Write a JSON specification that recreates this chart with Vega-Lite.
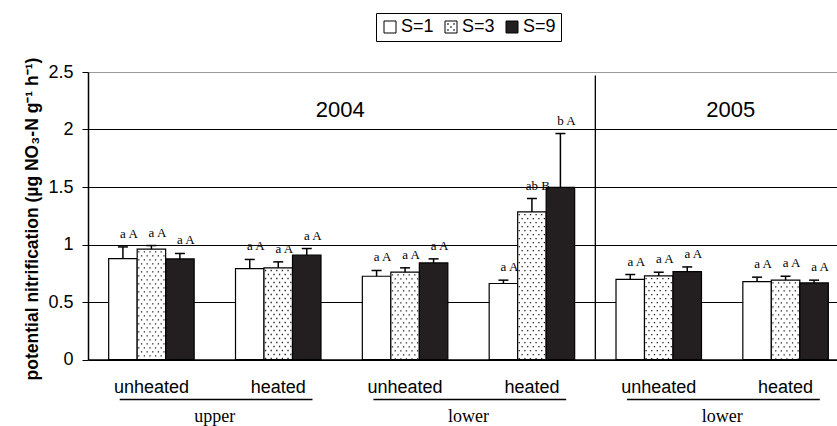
{
  "$schema": "https://vega.github.io/schema/vega-lite/v6.json",
  "autosize": {"type": "none"},
  "padding": {"left": 88, "top": 72, "right": 0, "bottom": 66.5},
  "width": 749,
  "height": 287.5,
  "background": "white",
  "config": {
    "view": {"stroke": null},
    "font": "Liberation Sans"
  },
  "datasets": {
    "bars": [
      {"group": "2004 upper unheated", "S": "S=1", "value": 0.878, "upper": 0.979, "letters": "a A"},
      {"group": "2004 upper unheated", "S": "S=3", "value": 0.959, "upper": 0.991, "letters": "a A"},
      {"group": "2004 upper unheated", "S": "S=9", "value": 0.875, "upper": 0.922, "letters": "a A"},
      {"group": "2004 upper heated", "S": "S=1", "value": 0.791, "upper": 0.870, "letters": "a A"},
      {"group": "2004 upper heated", "S": "S=3", "value": 0.797, "upper": 0.849, "letters": "a A"},
      {"group": "2004 upper heated", "S": "S=9", "value": 0.907, "upper": 0.965, "letters": "a A"},
      {"group": "2004 lower unheated", "S": "S=1", "value": 0.724, "upper": 0.774, "letters": "a A"},
      {"group": "2004 lower unheated", "S": "S=3", "value": 0.759, "upper": 0.797, "letters": "a A"},
      {"group": "2004 lower unheated", "S": "S=9", "value": 0.840, "upper": 0.875, "letters": "a A"},
      {"group": "2004 lower heated", "S": "S=1", "value": 0.661, "upper": 0.690, "letters": "a A"},
      {"group": "2004 lower heated", "S": "S=3", "value": 1.283, "upper": 1.400, "letters": "ab B"},
      {"group": "2004 lower heated", "S": "S=9", "value": 1.496, "upper": 1.965, "letters": "b A"},
      {"group": "2005 lower unheated", "S": "S=1", "value": 0.696, "upper": 0.739, "letters": "a A"},
      {"group": "2005 lower unheated", "S": "S=3", "value": 0.727, "upper": 0.759, "letters": "a A"},
      {"group": "2005 lower unheated", "S": "S=9", "value": 0.765, "upper": 0.805, "letters": "a A"},
      {"group": "2005 lower heated", "S": "S=1", "value": 0.678, "upper": 0.716, "letters": "a A"},
      {"group": "2005 lower heated", "S": "S=3", "value": 0.690, "upper": 0.724, "letters": "a A"},
      {"group": "2005 lower heated", "S": "S=9", "value": 0.666, "upper": 0.690, "letters": "a A"}
    ],
    "blocks": [
      {"block": "2004 upper", "year": "2004"},
      {"block": "2004 lower", "year": "2004"},
      {"block": "2005 lower", "year": "2005"}
    ]
  },
  "layer": [
    {
      "data": {"name": "bars"},
      "layer": [
        {
          "mark": {"type": "bar", "stroke": "black", "strokeWidth": 1.2},
          "encoding": {
            "x": {
              "field": "group", "type": "nominal", "title": null,
              "scale": {
                "domain": ["2004 upper unheated", "2004 upper heated", "2004 lower unheated", "2004 lower heated", "2005 lower unheated", "2005 lower heated"],
                "range": [0, 761], "paddingInner": 0.326, "paddingOuter": 0.163
              },
              "axis": {
                "orient": "bottom", "labelExpr": "split(datum.label, ' ')[2]",
                "labelFont": "Liberation Sans", "labelFontSize": 18, "labelColor": "black",
                "labelAngle": 0, "labelBaseline": "alphabetic", "labelPadding": 33.2,
                "ticks": false, "tickSize": 0, "domain": true, "domainColor": "black", "domainWidth": 1.5,
                "grid": false, "title": null
              }
            },
            "xOffset": {"field": "S", "type": "nominal", "scale": {"domain": ["S=1", "S=3", "S=9"], "paddingInner": 0, "paddingOuter": 0}},
            "y": {
              "field": "value", "type": "quantitative",
              "title": "potential nitrification (µg NO₃-N g⁻¹ h⁻¹)",
              "scale": {"domain": [0, 2.5], "nice": false, "zero": true},
              "axis": {
                "title": "potential nitrification (µg NO₃-N g⁻¹ h⁻¹)",
                "values": [0, 0.5, 1, 1.5, 2, 2.5], "format": "~g",
                "labelFont": "Liberation Sans", "labelFontSize": 18, "labelColor": "black", "labelPadding": 9,
                "ticks": true, "tickSize": 6, "tickColor": "black", "tickWidth": 1,
                "domain": true, "domainColor": "black", "domainWidth": 1.5,
                "grid": true, "gridWidth": 1,
                "gridColor": {"condition": {"test": "datum.value == 2.5", "value": "#9a9a9a"}, "value": "black"},
                "titleFont": "Liberation Sans", "titleFontSize": 17.5, "titleFontWeight": "bold", "titleColor": "black",
                "titlePadding": 6, "titleY": 146.5
              }
            },
            "y2": {"datum": 0},
            "fill": {
              "field": "S", "type": "nominal",
              "scale": {"domain": ["S=1", "S=3", "S=9"], "range": ["white", "white", "#231f20"]},
              "legend": {
                "title": null, "orient": "none", "legendX": 288, "legendY": -59, "direction": "horizontal",
                "symbolType": "square", "symbolSize": 144, "symbolStrokeColor": "black", "symbolStrokeWidth": 1,
                "labelFont": "Liberation Sans", "labelFontSize": 18, "labelColor": "black", "labelOffset": 2,
                "columnPadding": 8, "padding": 5, "strokeColor": "black",
                "encode": {"symbols": {"update": {"shape": {"signal": "datum.value === 'S=3' ? 'M-1,-1H1V1H-1Z M-0.55,-0.55h0.1v0.1h-0.1Z M0.45,-0.55h0.1v0.1h-0.1Z M-0.05,-0.05h0.1v0.1h-0.1Z M-0.55,0.45h0.1v0.1h-0.1Z M0.45,0.45h0.1v0.1h-0.1Z' : 'square'"}}}}
              }
            }
          }
        },
        {"transform": [{"filter": {"field": "S", "equal": "S=3"}}], "mark": {"type": "rule", "stroke": "#222", "strokeWidth": 1.3, "strokeDash": [1.3, 6.7], "strokeDashOffset": 6}, "encoding": {"x": {"field": "group", "type": "nominal", "bandPosition": 0.3521}, "y": {"field": "value", "type": "quantitative"}, "y2": {"datum": 0}}},
        {"transform": [{"filter": {"field": "S", "equal": "S=3"}}], "mark": {"type": "rule", "stroke": "#222", "strokeWidth": 1.3, "strokeDash": [1.3, 6.7], "strokeDashOffset": 2}, "encoding": {"x": {"field": "group", "type": "nominal", "bandPosition": 0.3849}, "y": {"field": "value", "type": "quantitative"}, "y2": {"datum": 0}}},
        {"transform": [{"filter": {"field": "S", "equal": "S=3"}}], "mark": {"type": "rule", "stroke": "#222", "strokeWidth": 1.3, "strokeDash": [1.3, 6.7], "strokeDashOffset": 6}, "encoding": {"x": {"field": "group", "type": "nominal", "bandPosition": 0.4176}, "y": {"field": "value", "type": "quantitative"}, "y2": {"datum": 0}}},
        {"transform": [{"filter": {"field": "S", "equal": "S=3"}}], "mark": {"type": "rule", "stroke": "#222", "strokeWidth": 1.3, "strokeDash": [1.3, 6.7], "strokeDashOffset": 2}, "encoding": {"x": {"field": "group", "type": "nominal", "bandPosition": 0.4504}, "y": {"field": "value", "type": "quantitative"}, "y2": {"datum": 0}}},
        {"transform": [{"filter": {"field": "S", "equal": "S=3"}}], "mark": {"type": "rule", "stroke": "#222", "strokeWidth": 1.3, "strokeDash": [1.3, 6.7], "strokeDashOffset": 6}, "encoding": {"x": {"field": "group", "type": "nominal", "bandPosition": 0.4832}, "y": {"field": "value", "type": "quantitative"}, "y2": {"datum": 0}}},
        {"transform": [{"filter": {"field": "S", "equal": "S=3"}}], "mark": {"type": "rule", "stroke": "#222", "strokeWidth": 1.3, "strokeDash": [1.3, 6.7], "strokeDashOffset": 2}, "encoding": {"x": {"field": "group", "type": "nominal", "bandPosition": 0.5159}, "y": {"field": "value", "type": "quantitative"}, "y2": {"datum": 0}}},
        {"transform": [{"filter": {"field": "S", "equal": "S=3"}}], "mark": {"type": "rule", "stroke": "#222", "strokeWidth": 1.3, "strokeDash": [1.3, 6.7], "strokeDashOffset": 6}, "encoding": {"x": {"field": "group", "type": "nominal", "bandPosition": 0.5487}, "y": {"field": "value", "type": "quantitative"}, "y2": {"datum": 0}}},
        {"transform": [{"filter": {"field": "S", "equal": "S=3"}}], "mark": {"type": "rule", "stroke": "#222", "strokeWidth": 1.3, "strokeDash": [1.3, 6.7], "strokeDashOffset": 2}, "encoding": {"x": {"field": "group", "type": "nominal", "bandPosition": 0.5814}, "y": {"field": "value", "type": "quantitative"}, "y2": {"datum": 0}}},
        {"transform": [{"filter": {"field": "S", "equal": "S=3"}}], "mark": {"type": "rule", "stroke": "#222", "strokeWidth": 1.3, "strokeDash": [1.3, 6.7], "strokeDashOffset": 6}, "encoding": {"x": {"field": "group", "type": "nominal", "bandPosition": 0.6142}, "y": {"field": "value", "type": "quantitative"}, "y2": {"datum": 0}}},
        {"transform": [{"filter": {"field": "S", "equal": "S=3"}}], "mark": {"type": "rule", "stroke": "#222", "strokeWidth": 1.3, "strokeDash": [1.3, 6.7], "strokeDashOffset": 2}, "encoding": {"x": {"field": "group", "type": "nominal", "bandPosition": 0.6469}, "y": {"field": "value", "type": "quantitative"}, "y2": {"datum": 0}}},
        {
          "mark": {"type": "rule", "stroke": "black", "strokeWidth": 1.5},
          "encoding": {
            "x": {"field": "group", "type": "nominal"},
            "xOffset": {"field": "S", "type": "nominal"},
            "y": {"field": "value", "type": "quantitative"},
            "y2": {"field": "upper"}
          }
        },
        {
          "mark": {"type": "tick", "orient": "horizontal", "color": "black", "size": 10, "thickness": 1.5, "opacity": 1},
          "encoding": {
            "x": {"field": "group", "type": "nominal"},
            "xOffset": {"field": "S", "type": "nominal"},
            "y": {"field": "upper", "type": "quantitative"}
          }
        },
        {
          "mark": {"type": "text", "font": "Liberation Serif", "fontSize": 13, "color": "black", "align": "center", "baseline": "alphabetic", "dx": 6, "dy": -9},
          "encoding": {
            "x": {"field": "group", "type": "nominal"},
            "xOffset": {"field": "S", "type": "nominal"},
            "y": {"field": "upper", "type": "quantitative"},
            "text": {"field": "letters"}
          }
        }
      ]
    },
    {
      "data": {"name": "blocks"},
      "layer": [
        {
          "mark": {"type": "rule", "stroke": "black", "strokeWidth": 1.3, "yOffset": 40},
          "encoding": {
            "x": {
              "field": "block", "type": "nominal", "bandPosition": 0.125, "title": null,
              "scale": {"domain": ["2004 upper", "2004 lower", "2005 lower"], "range": [0, 761], "paddingInner": 0, "paddingOuter": 0},
              "axis": {
                "orient": "bottom", "labelExpr": "split(datum.label, ' ')[1]",
                "labelFont": "Liberation Serif", "labelFontSize": 18, "labelColor": "black",
                "labelAngle": 0, "labelBaseline": "alphabetic", "labelPadding": 61.5,
                "ticks": false, "tickSize": 0, "domain": false, "grid": false, "title": null
              }
            },
            "x2": {"field": "block", "bandPosition": 0.885},
            "y": {"datum": 0, "type": "quantitative"}
          }
        },
        {
          "transform": [{"filter": {"field": "block", "equal": "2005 lower"}}],
          "mark": {"type": "rule", "stroke": "black", "strokeWidth": 1.3},
          "encoding": {
            "x": {"field": "block", "type": "nominal", "bandPosition": 0},
            "y": {"datum": 0, "type": "quantitative"},
            "y2": {"datum": 2.47}
          }
        },
        {
          "transform": [{"filter": {"field": "block", "equal": "2004 lower"}}],
          "mark": {"type": "text", "font": "Liberation Sans", "fontSize": 22, "color": "black", "align": "center", "baseline": "alphabetic", "dx": -1.5},
          "encoding": {
            "x": {"field": "block", "type": "nominal", "bandPosition": 0},
            "y": {"datum": 2.11, "type": "quantitative"},
            "text": {"field": "year"}
          }
        },
        {
          "transform": [{"filter": {"field": "block", "equal": "2005 lower"}}],
          "mark": {"type": "text", "font": "Liberation Sans", "fontSize": 22, "color": "black", "align": "center", "baseline": "alphabetic"},
          "encoding": {
            "x": {"field": "block", "type": "nominal", "bandPosition": 0.534},
            "y": {"datum": 2.11, "type": "quantitative"},
            "text": {"field": "year"}
          }
        }
      ]
    }
  ],
  "resolve": {"scale": {"x": "independent"}, "axis": {"x": "independent"}}
}
